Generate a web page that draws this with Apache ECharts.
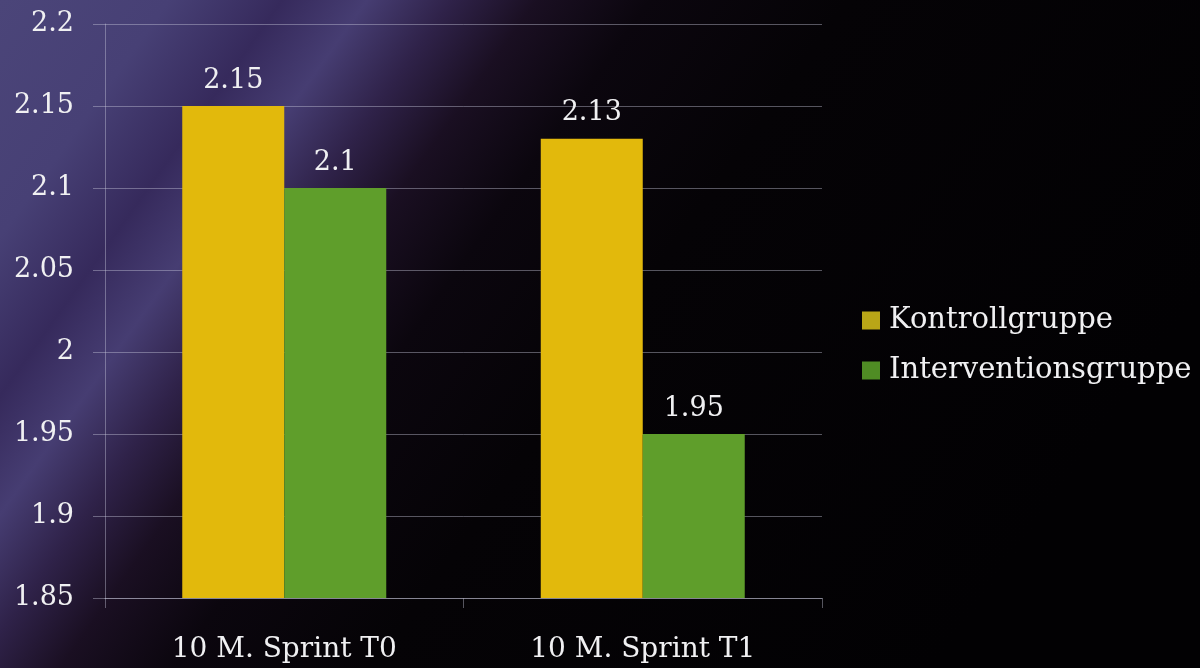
<!DOCTYPE html>
<html>
<head>
<meta charset="utf-8">
<script src="https://cdn.jsdelivr.net/npm/echarts@6/dist/echarts.min.js"></script>
<style>
  html, body { margin: 0; padding: 0; background: #050308; }
  #chart { width: 1200px; height: 668px; }
</style>
</head>
<body>
<div id="chart"></div>
<script>
const categories = ["10 M. Sprint T0", "10 M. Sprint T1"];
const kontrollgruppe = [2.15, 2.13];
const interventionsgruppe = [2.1, 1.95];

const chart = echarts.init(document.getElementById("chart"));
const font = "'DejaVu Serif', 'Liberation Serif', serif";
const textColor = "#f0f0f2";
const lineColor = "rgba(200,200,220,0.42)";

chart.setOption({
  animation: false,
  // purple glow in the top-left corner fading to black
  backgroundColor: new echarts.graphic.LinearGradient(0, 0, 0.78, 1, [
    { offset: 0, color: "#4b4579" },
    { offset: 0.12, color: "#474075" },
    { offset: 0.2, color: "#362a5c" },
    { offset: 0.26, color: "#463d72" },
    { offset: 0.32, color: "#2f2249" },
    { offset: 0.38, color: "#1a0f22" },
    { offset: 0.46, color: "#0b060e" },
    { offset: 0.6, color: "#050306" },
    { offset: 1, color: "#020103" },
  ]),
  legend: {
    orient: "vertical",
    left: 857,
    top: 301,
    itemWidth: 18,
    itemHeight: 18,
    itemGap: 21,
    icon: "rect",
    textStyle: { color: textColor, fontSize: 29, fontFamily: font, padding: [0, 0, 0, 4] },
    data: [
      { name: "Kontrollgruppe", itemStyle: { color: "#b9a617" } },
      { name: "Interventionsgruppe", itemStyle: { color: "#4f8c24" } },
    ],
  },
  grid: { left: 105, right: 378, top: 24, bottom: 70 },
  xAxis: {
    type: "category",
    data: categories,
    axisLine: { lineStyle: { color: lineColor } },
    axisTick: { show: true, length: 10, lineStyle: { color: lineColor } },
    axisLabel: { color: textColor, fontSize: 28, fontFamily: font, margin: 38 },
  },
  yAxis: {
    type: "value",
    min: 1.85,
    max: 2.2,
    interval: 0.05,
    axisLine: { show: true, lineStyle: { color: lineColor } },
    axisTick: { show: true, length: 12, lineStyle: { color: lineColor } },
    axisLabel: { color: textColor, fontSize: 27, fontFamily: font, margin: 31 },
    splitLine: { lineStyle: { color: lineColor } },
  },
  series: [
    {
      name: "Kontrollgruppe",
      type: "bar",
      data: kontrollgruppe,
      barWidth: 102,
      barGap: "0%",
      itemStyle: { color: "#e2b90c" },
      label: { show: true, position: "top", distance: 12, color: textColor, fontSize: 27, fontFamily: font },
    },
    {
      name: "Interventionsgruppe",
      type: "bar",
      data: interventionsgruppe,
      barWidth: 102,
      itemStyle: { color: "#5f9e2b" },
      label: { show: true, position: "top", distance: 12, color: textColor, fontSize: 27, fontFamily: font },
    },
  ],
});
</script>
</body>
</html>
